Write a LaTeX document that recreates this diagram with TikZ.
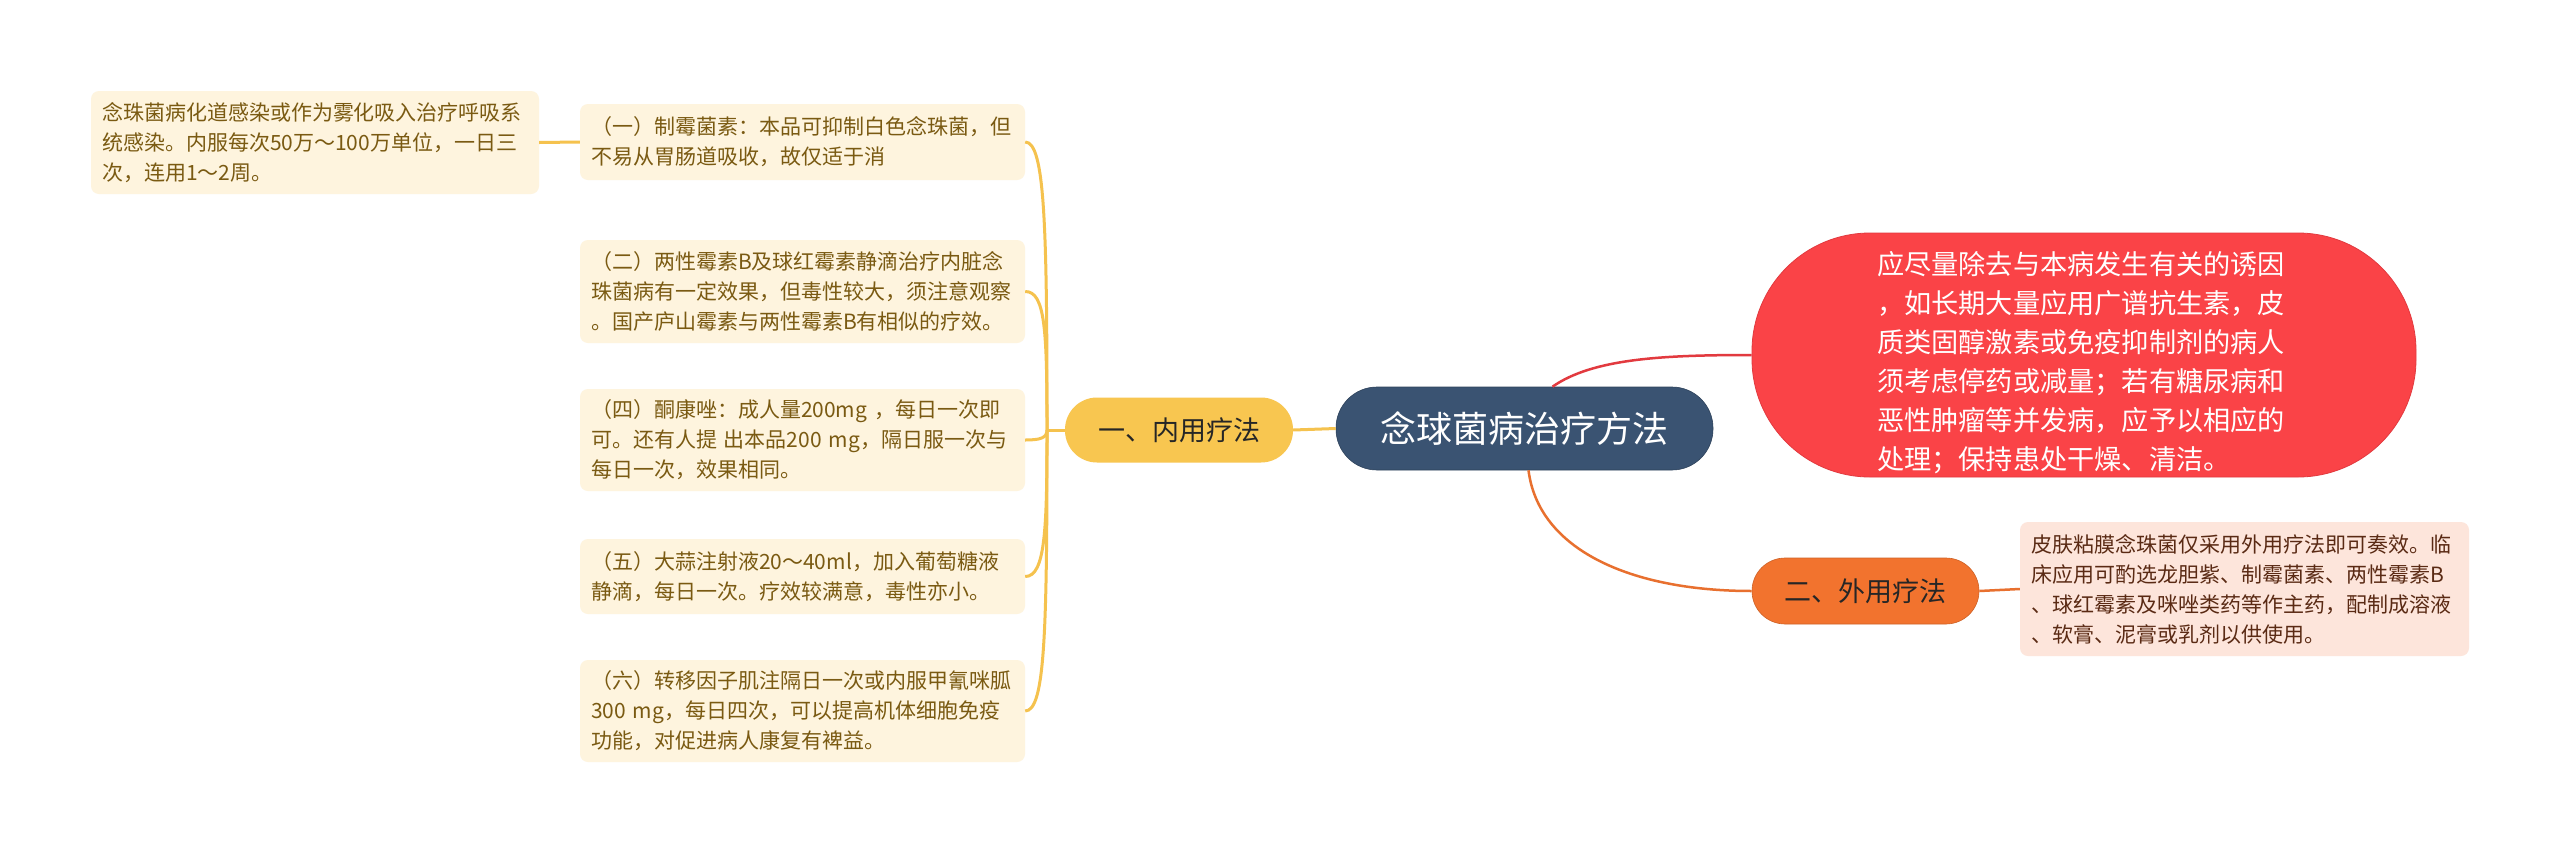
\documentclass[tikz,border=0pt]{standalone}
\usepackage{fontspec}
\newfontfamily\cjk{Noto Sans CJK SC}
\usetikzlibrary{calc}
\definecolor{cream}{HTML}{FEF4DE}
\definecolor{creamtext}{HTML}{7A5A12}
\definecolor{peach}{HTML}{FDE5DB}
\definecolor{peachtext}{HTML}{5A2A14}
\definecolor{centerc}{HTML}{3A5372}
\definecolor{redc}{HTML}{FA4347}
\definecolor{yelc}{HTML}{F8C650}
\definecolor{orgc}{HTML}{F2732E}
\definecolor{yline}{HTML}{F5C24E}
\definecolor{rline}{HTML}{E23A3F}
\definecolor{oline}{HTML}{E8702F}
\tikzset{
  leafbox/.style={fill=cream, text=creamtext, rounded corners=8pt, align=left,
    inner xsep=11pt, inner ysep=0pt, anchor=center,
    font=\cjk\fontsize{21}{30}\selectfont},
  peachbox/.style={fill=peach, text=peachtext, rounded corners=8pt, align=left,
    inner xsep=11pt, inner ysep=0pt, anchor=center,
    font=\cjk\fontsize{21}{30}\selectfont},
  ylinks/.style={draw=yline, line width=3pt},
  rlinks/.style={draw=rline, line width=2.5pt},
  olinks/.style={draw=oline, line width=2.5pt},
}
\begin{document}
\begin{tikzpicture}[x=1pt,y=-1pt]
\useasboundingbox[fill=white] (0,0) rectangle (2560,857);

% central topic
\node[fill=centerc, draw=centerc!80!black, line width=0.6pt, text=white, rounded corners=41pt,
  minimum width=377pt, minimum height=83pt, inner sep=0pt,
  font=\cjk\fontsize{36}{40}\selectfont] (C) at (1524.5,428.5) {念球菌病治疗方法};

% main branches
\node[fill=yelc, text=black!85, rounded corners=32pt, minimum width=228pt, minimum height=65pt,
  inner sep=0pt, font=\cjk\fontsize{27}{32}\selectfont] (Y) at (1179,430) {一、内用疗法};
\node[fill=orgc, draw=orgc!85!black, line width=0.6pt, text=black!85, rounded corners=33pt, minimum width=227pt, minimum height=66pt,
  inner sep=0pt, font=\cjk\fontsize{27}{32}\selectfont] (O) at (1865.5,591) {二、外用疗法};
\node[fill=redc, draw=rline, line width=0.8pt, rounded corners=118pt, minimum width=664pt, minimum height=244pt,
  inner sep=0pt] (R) at (2084,355) {};
\node[text=white, inner sep=0pt, text width=410pt, align=left,
  font=\cjk\fontsize{27.2}{39}\selectfont] (Rt) at (2082,363) {应尽量除去与本病发生有关的诱因\\，如长期大量应用广谱抗生素，皮\\质类固醇激素或免疫抑制剂的病人\\须考虑停药或减量；若有糖尿病和\\恶性肿瘤等并发病，应予以相应的\\处理；保持患处干燥、清洁。};

% leaf boxes
\node[leafbox, text width=426pt, minimum height=103pt] (L0) at (315,142.5)
  {念珠菌病化道感染或作为雾化吸入治疗呼吸系\\统感染。内服每次50万～100万单位，一日三\\次，连用1～2周。};
\node[leafbox, text width=423pt, minimum height=76pt] (B1) at (802.5,142)
  {（一）制霉菌素：本品可抑制白色念珠菌，但\\不易从胃肠道吸收，故仅适于消};
\node[leafbox, text width=423pt, minimum height=103pt] (B2) at (802.5,291.5)
  {（二）两性霉素B及球红霉素静滴治疗内脏念\\珠菌病有一定效果，但毒性较大，须注意观察\\。国产庐山霉素与两性霉素B有相似的疗效。};
\node[leafbox, text width=423pt, minimum height=102pt] (B4) at (802.5,440)
  {（四）酮康唑：成人量200mg ，每日一次即\\可。还有人提 出本品200 mg，隔日服一次与\\每日一次，效果相同。};
\node[leafbox, text width=423pt, minimum height=75pt] (B5) at (802.5,576.5)
  {（五）大蒜注射液20～40ml，加入葡萄糖液\\静滴，每日一次。疗效较满意，毒性亦小。};
\node[leafbox, text width=423pt, minimum height=102pt] (B6) at (802.5,711)
  {（六）转移因子肌注隔日一次或内服甲氰咪胍\\300 mg，每日四次，可以提高机体细胞免疫\\功能，对促进病人康复有裨益。};
\node[peachbox, text width=427pt, minimum height=134pt] (P) at (2244.5,589)
  {皮肤粘膜念珠菌仅采用外用疗法即可奏效。临\\床应用可酌选龙胆紫、制霉菌素、两性霉素B\\、球红霉素及咪唑类药等作主药，配制成溶液\\、软膏、泥膏或乳剂以供使用。};

% connectors
\coordinate (J) at (1047,430);
\draw[ylinks] (C.west) -- (Y.east);
\draw[ylinks] (Y.west) -- (J);
\draw[ylinks] (B1.east) .. controls +(20,0) and +(0,-200) .. (J);
\draw[ylinks] (B2.east) .. controls +(20,0) and +(0,-100) .. (J);
\draw[ylinks] (B4.east) .. controls +(15,0) and +(0,8) .. (J);
\draw[ylinks] (B5.east) .. controls +(20,0) and +(0,100) .. (J);
\draw[ylinks] (B6.east) .. controls +(20,0) and +(0,200) .. (J);
\draw[ylinks] (B1.west) -- (L0.east);

\draw[rlinks] ([xshift=28pt]C.north) .. controls +(40,-28) and +(-90,0) .. (R.west);
\draw[olinks] ([xshift=4pt]C.south) .. controls +(10,80) and +(-120,0) .. (O.west);
\draw[olinks] (O.east) -- (P.west);
\end{tikzpicture}
\end{document}
